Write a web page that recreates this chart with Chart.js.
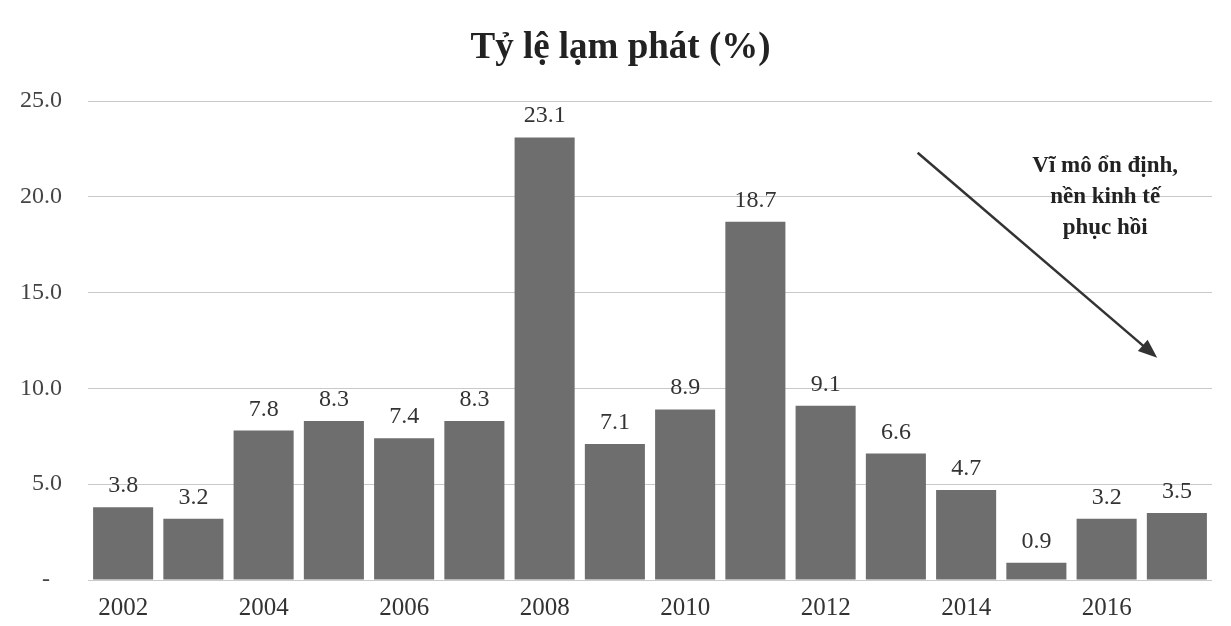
<!DOCTYPE html>
<html>
<head>
<meta charset="utf-8">
<script src="https://cdn.jsdelivr.net/npm/chart.js@4"></script>
<style>
  html, body { margin: 0; padding: 0; background: #fff; }
  #wrap { width: 1231px; height: 626px; }
</style>
</head>
<body>
<div id="wrap"><canvas id="chart" width="1231" height="626"></canvas></div>
<script>
// ── Data ──────────────────────────────────────────────────────────────────────
const YEARS  = ['2002', '2003', '2004', '2005', '2006', '2007', '2008', '2009',
                '2010', '2011', '2012', '2013', '2014', '2015', '2016', '2017']
const VALUES = [3.8, 3.2, 7.8, 8.3, 7.4, 8.3, 23.1, 7.1, 8.9, 18.7, 9.1, 6.6, 4.7, 0.9, 3.2, 3.5]
const Y_TICKS = [0, 5, 10, 15, 20, 25]
const TITLE = 'Tỷ lệ lạm phát (%)'
const NOTE_LINES = ['Vĩ mô ổn định,', 'nền kinh tế', 'phục hồi']

// annotation anchors, in (category index, value) units
const ARROW_FROM = [11.31, 22.3]
const ARROW_TO   = [14.72, 11.6]
const NOTE_AT    = [13.98, 21.6]

const SERIF = '"Liberation Serif", "DejaVu Serif", serif'

// ── Plugins ───────────────────────────────────────────────────────────────────
// title drawn by hand: the original sits a little right of the canvas centre
const chartTitle = {
  id: 'chartTitle',
  afterDraw(chart) {
    const ctx = chart.ctx
    ctx.save()
    ctx.font = `bold 37px ${SERIF}`
    ctx.fillStyle = '#222'
    ctx.textAlign = 'center'
    ctx.textBaseline = 'middle'
    ctx.fillText(TITLE, chart.width / 2 + 5, 48)
    ctx.restore()
  },
}

const valueLabels = {
  id: 'valueLabels',
  afterDatasetsDraw(chart) {
    const ctx = chart.ctx
    const meta = chart.getDatasetMeta(0)
    ctx.save()
    ctx.font = `24px ${SERIF}`
    ctx.fillStyle = '#333'
    ctx.textAlign = 'center'
    ctx.textBaseline = 'alphabetic'
    meta.data.forEach((bar, i) => {
      ctx.fillText(VALUES[i].toFixed(1), bar.x, bar.y - 15)
    })
    ctx.restore()
  },
}

const noteArrow = {
  id: 'noteArrow',
  afterDraw(chart) {
    const { ctx, scales: { x, y } } = chart
    const x1 = x.getPixelForValue(ARROW_FROM[0]), y1 = y.getPixelForValue(ARROW_FROM[1])
    const x2 = x.getPixelForValue(ARROW_TO[0]),   y2 = y.getPixelForValue(ARROW_TO[1])
    const ang = Math.atan2(y2 - y1, x2 - x1)
    const head = 19, half = 7.5
    ctx.save()
    ctx.strokeStyle = '#333'
    ctx.fillStyle = '#333'
    ctx.lineWidth = 2.5
    ctx.beginPath()
    ctx.moveTo(x1, y1)
    ctx.lineTo(x2 - Math.cos(ang) * head * 0.8, y2 - Math.sin(ang) * head * 0.8)
    ctx.stroke()
    ctx.beginPath()
    ctx.moveTo(x2, y2)
    ctx.lineTo(x2 - Math.cos(ang) * head - Math.sin(ang) * half,
               y2 - Math.sin(ang) * head + Math.cos(ang) * half)
    ctx.lineTo(x2 - Math.cos(ang) * head + Math.sin(ang) * half,
               y2 - Math.sin(ang) * head - Math.cos(ang) * half)
    ctx.closePath()
    ctx.fill()

    // note text
    const tx = x.getPixelForValue(NOTE_AT[0])
    const ty = y.getPixelForValue(NOTE_AT[1])
    ctx.font = `bold 23px ${SERIF}`
    ctx.fillStyle = '#222'
    ctx.textAlign = 'center'
    ctx.textBaseline = 'middle'
    NOTE_LINES.forEach((line, i) => ctx.fillText(line, tx, ty + i * 31))
    ctx.restore()
  },
}

// ── Chart ─────────────────────────────────────────────────────────────────────
new Chart(document.getElementById('chart'), {
  type: 'bar',
  data: {
    labels: YEARS,
    datasets: [{
      data: VALUES,
      backgroundColor: '#6e6e6e',
      borderWidth: 0,
      barPercentage: 0.855,
      categoryPercentage: 1,
    }],
  },
  options: {
    responsive: false,
    animation: false,
    layout: { padding: { left: 0, right: 19, top: 101, bottom: 0 } },
    plugins: {
      legend:  { display: false },
      tooltip: { enabled: false },
      title:   { display: false },
    },
    scales: {
      x: {
        grid:   { display: false },
        border: { display: false },
        ticks: {
          autoSkip: false,
          maxRotation: 0,
          padding: 5,
          color: '#333',
          font: { family: SERIF, size: 25 },
          callback: (v, i) => (i % 2 === 0 ? YEARS[i] : ''),
        },
        afterFit: s => { s.height = 46 },
      },
      y: {
        min: 0,
        max: 25,
        afterBuildTicks: s => { s.ticks = Y_TICKS.map(v => ({ value: v })) },
        grid: { color: '#c9c9c9', lineWidth: 1, drawTicks: false },
        border: { display: false },
        ticks: {
          padding: 26,
          color: '#444',
          font: { family: SERIF, size: 24 },
          callback: v => (v === 0 ? '-  ' : v.toFixed(1)),
        },
        afterFit: s => { s.width = 88 },
      },
    },
  },
  plugins: [chartTitle, valueLabels, noteArrow],
})
</script>
</body>
</html>
